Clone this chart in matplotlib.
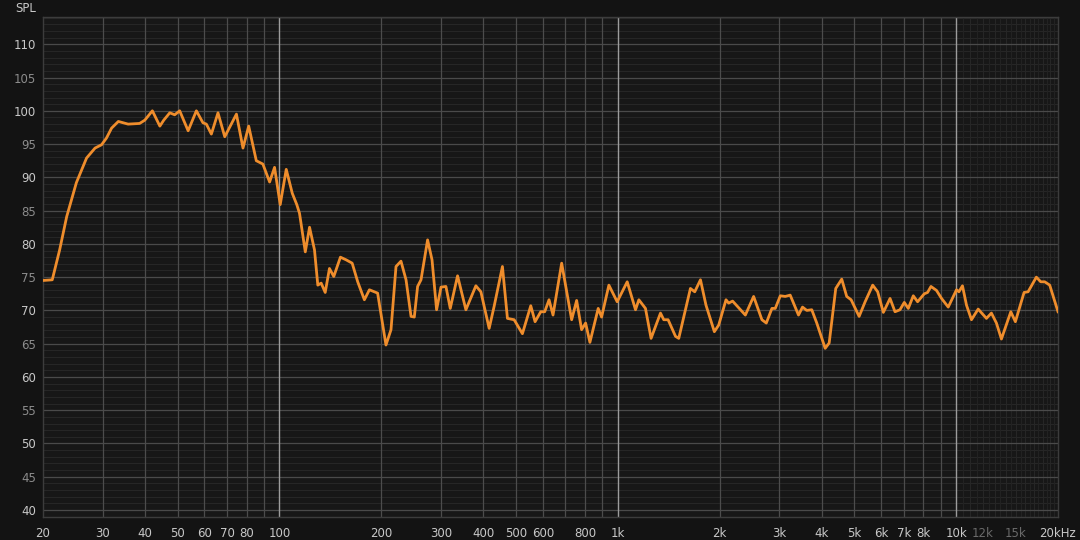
import numpy as np
import matplotlib
matplotlib.use("Agg")
import matplotlib.pyplot as plt

# frequency response (Hz, dB SPL)
freq = [20, 21.3, 22.4, 23.5, 25.1, 26.9, 28.5, 29.8, 30.8, 31.9, 33.4, 35.7, 38.6,
        40.0, 42.1, 44.3, 45.5, 47.4, 49.0, 50.7, 53.7, 56.8, 59.4, 60.8, 62.9, 65.8,
        68.9, 74.6, 78.0, 81.1, 85.4, 89.3, 93.5, 96.7, 100.5, 104.7, 109.1, 112.5,
        114.6, 119.2, 122.7, 126.9, 129.8, 132.8, 136.5, 140.5, 144.7, 151.4, 157.4,
        164.0, 170.3, 178.2, 184.4, 190.7, 195.0, 206.4, 213.6, 221.0, 228.6, 236.6,
        244.8, 250.3, 256.0, 262.0, 274.0, 282.4, 291.3, 300.2, 310.4, 319.7, 336.0,
        355.6, 380.6, 393.8, 416.6, 430.9, 456.0, 471.8, 493.8, 522.4, 553.0, 569.4,
        591.8, 608.0, 626.2, 643.4, 682.4, 730.4, 755.6, 781.6, 803.2, 827.0, 875.0,
        895.4, 941.0, 995.6, 1066, 1128, 1154, 1207, 1254, 1337, 1367, 1408, 1481,
        1514, 1639, 1688, 1755, 1822, 1929, 1987, 2088, 2126, 2184, 2382, 2520, 2666,
        2747, 2854, 2920, 3022, 3125, 3232, 3420, 3515, 3618, 3743, 3873, 4101, 4214,
        4407, 4590, 4748, 4893, 5167, 5382, 5667, 5862, 6093, 6377, 6596, 6823, 7026,
        7220, 7470, 7691, 8050, 8233, 8425, 8750, 9054, 9475, 10024, 10189, 10440,
        10728, 11100, 11617, 12290, 12714, 13153, 13608, 14506, 14964, 15876, 16315,
        17260, 17783, 18274, 18904, 20000]
spl = [74.5, 74.6, 79.1, 84.1, 89.2, 92.9, 94.4, 94.9, 95.9, 97.4, 98.4, 98.0, 98.1,
       98.6, 100.0, 97.7, 98.6, 99.7, 99.4, 100.0, 97.0, 100.0, 98.2, 98.0, 96.5, 99.7,
       96.1, 99.5, 94.4, 97.7, 92.5, 92.0, 89.3, 91.5, 85.9, 91.2, 87.6, 85.9,
       84.6, 78.8, 82.5, 79.1, 73.8, 74.1, 72.7, 76.3, 75.1, 78.0, 77.6,
       77.1, 74.3, 71.6, 73.1, 72.8, 72.6, 64.8, 67.1, 76.6, 77.4, 74.6,
       69.1, 69.0, 73.6, 74.6, 80.6, 77.6, 70.1, 73.5, 73.6, 70.3, 75.2,
       70.1, 73.7, 72.8, 67.3, 70.6, 76.6, 68.8, 68.6, 66.5, 70.7, 68.3,
       69.8, 69.8, 71.6, 69.3, 77.1, 68.6, 71.5, 67.1, 68.1, 65.2, 70.3,
       69.0, 73.8, 71.3, 74.3, 70.1, 71.6, 70.3, 65.8, 69.6, 68.6, 68.6, 66.1,
       65.8, 73.3, 72.8, 74.6, 70.8, 66.8, 67.8, 71.6, 71.1, 71.4, 69.3, 72.1, 68.6,
       68.1, 70.3, 70.3, 72.2, 72.1, 72.3, 69.3, 70.5, 70.0, 70.1, 68.1, 64.3, 65.1,
       73.3, 74.7, 72.1, 71.6, 69.1, 71.3, 73.8, 72.8, 69.7, 71.8, 69.8, 70.1, 71.2,
       70.3, 72.2, 71.3, 72.5, 72.7, 73.6, 73.0, 71.8, 70.5, 73.1, 72.8, 73.7,
       70.8, 68.6, 70.2, 68.8, 69.6, 68.1, 65.7, 69.8, 68.3, 72.7, 72.8,
       75.0, 74.3, 74.3, 73.8, 69.8]

x_ticks = [20, 30, 40, 50, 60, 70, 80, 100, 200, 300, 400, 500, 600, 800,
           1000, 2000, 3000, 4000, 5000, 6000, 7000, 8000, 10000, 12000, 15000, 20000]
x_labels = ['20', '30', '40', '50', '60', '70', '80', '100', '200', '300', '400', '500',
            '600', '800', '1k', '2k', '3k', '4k', '5k', '6k', '7k', '8k', '10k', '12k',
            '15k', '20kHz']
y_ticks = list(range(40, 115, 5))

bg = '#131313'
fig = plt.figure(figsize=(10.8, 5.4), dpi=100, facecolor=bg)
ax = fig.add_axes([43 / 1080, 1 - 517 / 540, 1015 / 1080, 500 / 540])
ax.set_facecolor('#171717')
ax.set_xscale('log')
ax.set_xlim(20, 20000)
ax.set_ylim(38.95, 114.1)

# horizontal grid: 1 dB fine, 5 dB main
for v in range(39, 115):
    if v % 5 == 0:
        ax.axhline(v, color='#4a4a4a', lw=0.9, zorder=1)
    else:
        ax.axhline(v, color='#262626', lw=0.8, zorder=0.5)

# vertical grid
for dec in [10, 100, 1000, 10000]:
    for m in range(1, 10):
        f = dec * m
        if f <= 20 or f >= 20000:
            continue
        if m == 1:
            ax.axvline(f, color='#9c9c9c', lw=1.0, zorder=1.2)
        else:
            ax.axvline(f, color='#4c4c4c', lw=0.9, zorder=1)
for f in np.arange(10500, 20000, 500):
    if f % 1000:
        ax.axvline(f, color='#222222', lw=0.8, zorder=0.6)
for f in range(11000, 20000, 1000):
    ax.axvline(f, color='#262626', lw=0.8, zorder=0.6)

ax.plot(freq, spl, color='#ef8d2c', lw=2.0, solid_joinstyle='round', zorder=3)

for s in ax.spines.values():
    s.set_color('#3c3c3c')
    s.set_linewidth(1.0)

ax.minorticks_off()
ax.set_xticks(x_ticks)
ax.set_xticklabels(x_labels)
ax.set_yticks(y_ticks)
ax.set_yticklabels([str(v) for v in y_ticks])
ax.tick_params(axis='both', length=0, labelsize=8.5)
ax.tick_params(axis='x', pad=7)
ax.tick_params(axis='y', pad=5)
for lab, f in zip(ax.get_xticklabels(), x_ticks):
    lab.set_color('#6a6a6a' if f in (12000, 15000) else '#c8c8c8')
for lab, v in zip(ax.get_yticklabels(), y_ticks):
    lab.set_color('#c8c8c8' if v % 10 == 0 else '#8c8c8c')
ax.get_xticklabels()[-1].set_horizontalalignment('center')

fig.text(15 / 1080, 1 - 8 / 540, 'SPL', color='#c8c8c8', fontsize=8.5, va='center', ha='left')

fig.savefig('out.png', dpi=100, facecolor=bg)
